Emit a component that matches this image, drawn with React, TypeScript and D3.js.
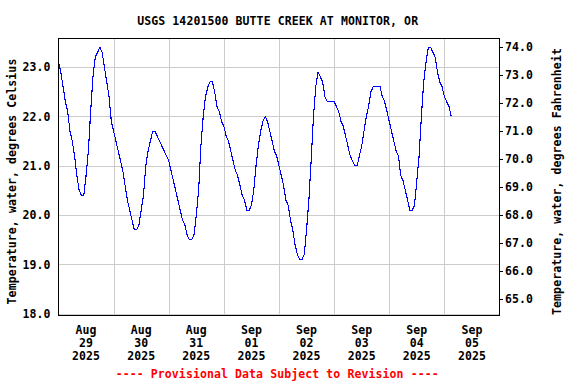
import React from "react";
import * as d3 from "d3";

const TITLE = "USGS 14201500 BUTTE CREEK AT MONITOR, OR";
const LEFT_TITLE = "Temperature, water, degrees Celsius";
const RIGHT_TITLE = "Temperature, water, degrees Fahrenheit";
const FOOTER = "---- Provisional Data Subject to Revision ----";

// hourly readings (deg C), starting at 00:00 each day
const aug29 = [23.1, 22.9, 22.6, 22.3, 22.1, 21.7, 21.5, 21.2, 20.8, 20.5, 20.4, 20.4, 20.8, 21.3, 22.1, 22.8, 23.2, 23.3, 23.4, 23.3, 23.0, 22.7, 22.4, 21.9];
const aug30 = [21.7, 21.5, 21.3, 21.1, 20.9, 20.6, 20.3, 20.1, 19.9, 19.7, 19.7, 19.8, 20.1, 20.4, 21.0, 21.3, 21.5, 21.7, 21.7, 21.6, 21.5, 21.4, 21.3, 21.2];
const aug31 = [21.1, 20.9, 20.7, 20.5, 20.3, 20.1, 19.9, 19.8, 19.6, 19.5, 19.5, 19.6, 20.0, 20.5, 21.4, 22.0, 22.4, 22.6, 22.7, 22.7, 22.5, 22.2, 22.1, 21.9];
const sep01 = [21.8, 21.6, 21.5, 21.3, 21.1, 20.9, 20.8, 20.6, 20.4, 20.3, 20.1, 20.1, 20.2, 20.5, 21.0, 21.4, 21.7, 21.9, 22.0, 21.9, 21.7, 21.5, 21.3, 21.2];
const sep02 = [21.0, 20.8, 20.6, 20.3, 20.2, 19.9, 19.7, 19.4, 19.2, 19.1, 19.1, 19.2, 19.7, 20.3, 21.1, 22.0, 22.6, 22.9, 22.8, 22.7, 22.4, 22.3, 22.3, 22.3];
const sep03 = [22.3, 22.2, 22.1, 21.9, 21.8, 21.6, 21.4, 21.2, 21.1, 21.0, 21.0, 21.2, 21.4, 21.7, 22.0, 22.2, 22.5, 22.6, 22.6, 22.6, 22.6, 22.4, 22.3, 22.1];
const sep04 = [21.9, 21.7, 21.5, 21.3, 21.2, 20.8, 20.7, 20.5, 20.3, 20.1, 20.1, 20.2, 20.7, 21.2, 22.0, 22.7, 23.1, 23.4, 23.4, 23.3, 23.2, 22.9, 22.7, 22.6];
const sep05 = [22.4, 22.3, 22.2, 22.0];

const DAYS = [aug29, aug30, aug31, sep01, sep02, sep03, sep04, sep05];
const DAY_LABELS = [
  ["Aug", "29", "2025"],
  ["Aug", "30", "2025"],
  ["Aug", "31", "2025"],
  ["Sep", "01", "2025"],
  ["Sep", "02", "2025"],
  ["Sep", "03", "2025"],
  ["Sep", "04", "2025"],
  ["Sep", "05", "2025"],
];
const LEFT_TICKS = [18, 19, 20, 21, 22, 23];
const RIGHT_TICKS = [65, 66, 67, 68, 69, 70, 71, 72, 73, 74];

const START = new Date(2025, 7, 29, 0, 0);
const END = new Date(2025, 8, 6, 0, 0);

const FONT = "'DejaVu Sans Mono', monospace";

export default function App() {
  const W = 576, H = 384;
  const L = 58.5, R = 499.5, T = 38.5, B = 315.5;

  const x = d3.scaleTime().domain([START, END]).range([L, R]);
  const y = d3.scaleLinear().domain([17.965, 23.58]).range([B, T]);
  const yF = d3.scaleLinear().domain([65, 74]).range([298.9, 47.3]);

  const points: { t: Date; v: number }[] = [];
  DAYS.forEach((arr, d) => {
    arr.forEach((v, h) => {
      points.push({ t: d3.timeHour.offset(d3.timeDay.offset(START, d), h), v });
    });
  });

  const line = d3
    .line<{ t: Date; v: number }>()
    .x((p) => x(p.t))
    .y((p) => y(p.v));

  const dayGrid = d3.timeDay.range(d3.timeDay.offset(START, 1), END);
  const noons = DAY_LABELS.map((_, i) => d3.timeHour.offset(d3.timeDay.offset(START, i), 12));

  const textStyle = { fontFamily: FONT, fontWeight: 700, fontSize: 11.5, letterSpacing: 0.1 } as const;
  const midY = 181.5;

  return (
    <svg width={W} height={H} style={{ position: "absolute", left: 0, top: 0, background: "#fff" }}>
      <rect x={0} y={0} width={W} height={H} fill="#fff" />
      <text x={277.7} y={25} textAnchor="middle" fill="#000" style={textStyle}>
        {TITLE}
      </text>

      {/* gridlines */}
      <g stroke="#cccccc" strokeWidth={1} shapeRendering="crispEdges">
        {dayGrid.map((d, i) => (
          <line key={"v" + i} x1={Math.round(x(d)) + 0.5} x2={Math.round(x(d)) + 0.5} y1={T} y2={B} />
        ))}
        {LEFT_TICKS.map((t) => (
          <line key={"h" + t} x1={L} x2={R} y1={Math.round(y(t)) + 0.5} y2={Math.round(y(t)) + 0.5} />
        ))}
      </g>

      {/* data line */}
      <path d={line(points) || ""} fill="none" stroke="#0000ff" strokeWidth={1.1} shapeRendering="crispEdges" />

      {/* border */}
      <rect x={L} y={T} width={R - L} height={B - T} fill="none" stroke="#000" strokeWidth={1} shapeRendering="crispEdges" />

      {/* left axis labels */}
      {LEFT_TICKS.map((t) => (
        <text key={"l" + t} x={50.5} y={y(t)} dy="0.36em" textAnchor="end" fill="#000" style={textStyle}>
          {t.toFixed(1)}
        </text>
      ))}

      {/* right axis ticks + labels */}
      <g stroke="#000" strokeWidth={1} shapeRendering="crispEdges">
        {RIGHT_TICKS.map((t) => (
          <line key={"rt" + t} x1={R} x2={R + 3.5} y1={Math.round(yF(t)) + 0.5} y2={Math.round(yF(t)) + 0.5} />
        ))}
      </g>
      {RIGHT_TICKS.map((t) => (
        <text key={"r" + t} x={505} y={yF(t)} dy="0.36em" textAnchor="start" fill="#000" style={textStyle}>
          {t.toFixed(1)}
        </text>
      ))}

      {/* x labels */}
      {noons.map((d, i) => (
        <g key={"x" + i}>
          {DAY_LABELS[i].map((s, j) => (
            <text key={j} x={x(d)} y={333.5 + j * 13} textAnchor="middle" fill="#000" style={textStyle}>
              {s}
            </text>
          ))}
        </g>
      ))}

      {/* axis titles */}
      <text transform={`translate(15.5, ${midY}) rotate(-90)`} textAnchor="middle" fill="#000" style={textStyle}>
        {LEFT_TITLE}
      </text>
      <text transform={`translate(561, ${midY}) rotate(-90)`} textAnchor="middle" fill="#000" style={textStyle}>
        {RIGHT_TITLE}
      </text>

      <text x={277.2} y={378} textAnchor="middle" fill="#ff0000" style={textStyle}>
        {FOOTER}
      </text>
    </svg>
  );
}
